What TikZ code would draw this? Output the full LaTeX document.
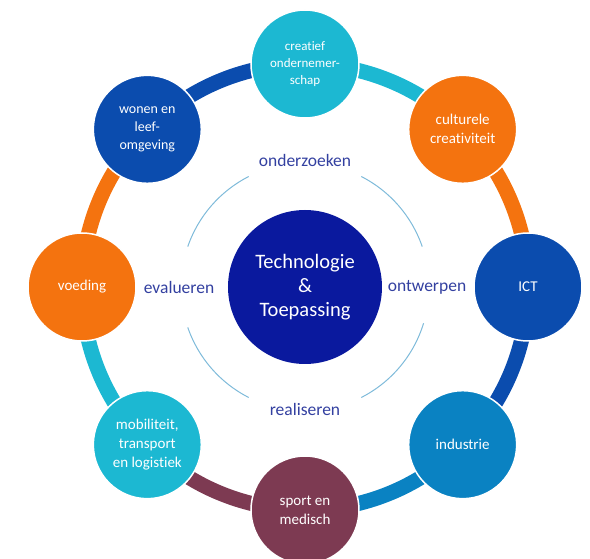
\documentclass[tikz,border=0pt]{standalone}
\usepackage{fontspec}
\setmainfont{Carlito}[Ligatures=NoCommon]
\usepackage{tikz}
\usetikzlibrary{backgrounds}

\definecolor{tcyan}{HTML}{1CB8D2}
\definecolor{toranje}{HTML}{F4730F}
\definecolor{tblauw}{HTML}{0B4CAE}
\definecolor{tmidblauw}{HTML}{0A82C2}
\definecolor{tbordeaux}{HTML}{7D3A52}
\definecolor{tnavy}{HTML}{0A199E}
\definecolor{tlabel}{HTML}{3340A0}
\definecolor{tboog}{HTML}{7FBBDA}

\begin{document}
\begin{tikzpicture}[x=1pt,y=1pt]
\tikzstyle{bol} = [circle, draw=white, line width=1.5pt, minimum size=108pt, inner sep=0pt, align=center, text=white, font=\fontsize{15}{19}\selectfont]
\tikzstyle{ring} = [line width=15pt]
\tikzstyle{fase} = [text=tlabel, font=\fontsize{17.5}{20}\selectfont]
\tikzstyle{boog} = [draw=tboog, line width=1pt]
\useasboundingbox (-305,-272) rectangle (285,287);
\node[circle, fill=tnavy, minimum size=154pt, inner sep=0pt, align=center, text=white, font=\fontsize{20.5}{24}\selectfont] (c) at (0,0) {Technologie\\\&\\Toepassing};
\node[bol, fill=tcyan, font=\fontsize{13}{17}\selectfont] (v1) at (90:223) {creatief\\ondernemer-\\schap};
\node[bol, fill=toranje] (v2) at (45:223) {culturele\\creativiteit};
\node[bol, fill=tblauw] (v3) at (0:223) {ICT};
\node[bol, fill=tmidblauw] (v4) at (-45:223) {industrie};
\node[bol, fill=tbordeaux] (v5) at (-90:223) {sport en\\medisch};
\node[bol, fill=tcyan] (v6) at (-135:223) {mobiliteit,\\transport\\en logistiek};
\node[bol, fill=toranje] (v7) at (180:223) {voeding};
\node[bol, fill=tblauw, font=\fontsize{14}{18}\selectfont] (v8) at (135:223) {wonen en\\leef-\\omgeving};
\node[fase] (f1) at (0,127) {onderzoeken};
\node[fase] (f2) at (122,0) {ontwerpen};
\node[fase] (f3) at (0,-122) {realiseren};
\node[fase] (f4) at (-126,0) {evalueren};
\begin{scope}[on background layer]
\draw[ring, draw=tcyan] (v1.center) arc (90:45:223);
\draw[ring, draw=toranje] (v2.center) arc (45:0:223);
\draw[ring, draw=tblauw] (v3.center) arc (0:-45:223);
\draw[ring, draw=tmidblauw] (v4.center) arc (-45:-90:223);
\draw[ring, draw=tbordeaux] (v5.center) arc (-90:-135:223);
\draw[ring, draw=tcyan] (v6.center) arc (-135:-180:223);
\draw[ring, draw=toranje] (v7.center) arc (180:135:223);
\draw[ring, draw=tblauw] (v8.center) arc (135:90:223);
\end{scope}
%\draw[boog] (c) circle (124);
\draw[boog] (c.center) ++(19:124) arc (19:63:124);
\draw[boog] (c.center) ++(117:124) arc (117:161:124);
\draw[boog] (c.center) ++(199:124) arc (199:243:124);
\draw[boog] (c.center) ++(-63:124) arc (-63:-17:124);
\end{tikzpicture}
\end{document}
